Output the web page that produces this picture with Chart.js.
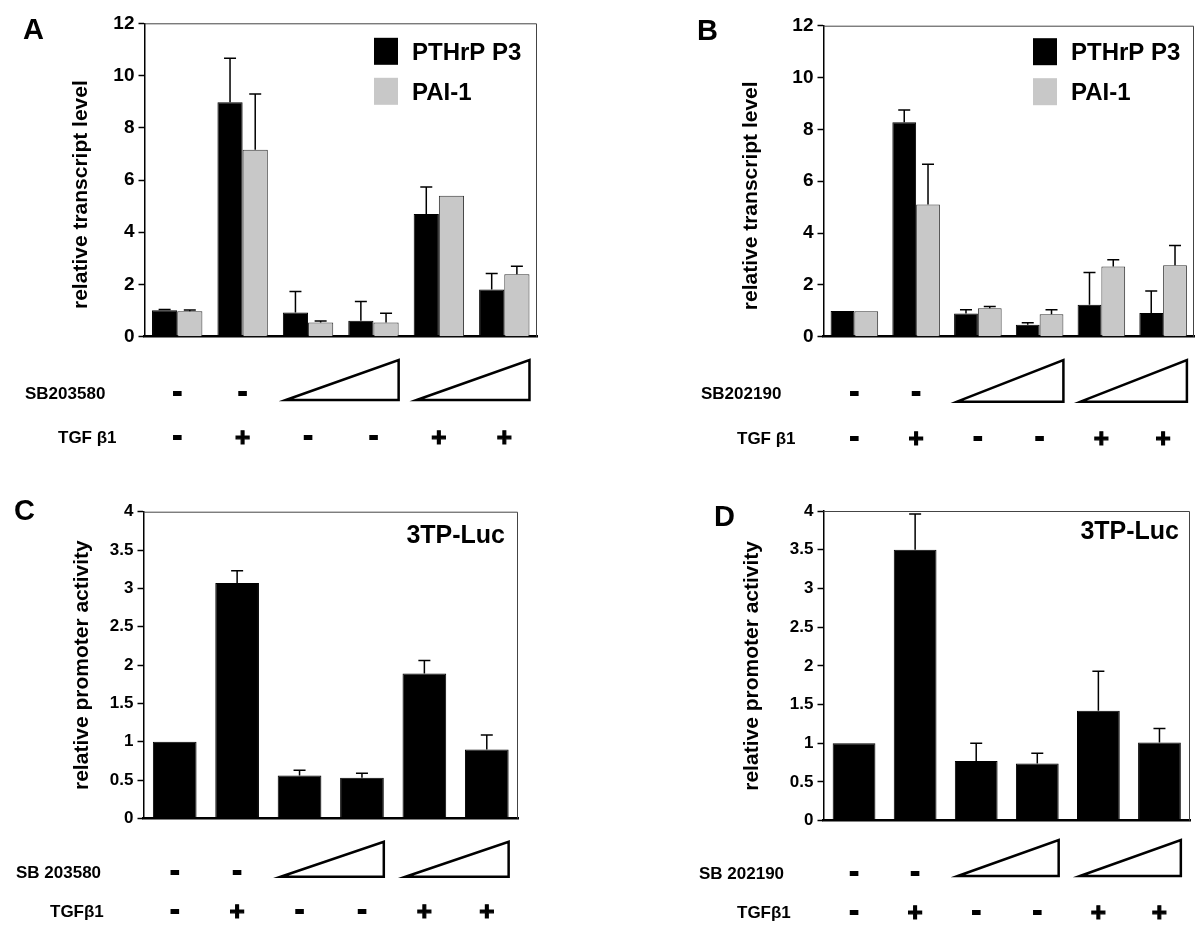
<!DOCTYPE html>
<html>
<head>
<meta charset="utf-8">
<title>p38 inhibitors and TGF-beta1</title>
<script src="https://cdn.jsdelivr.net/npm/chart.js@4.4.1/dist/chart.umd.min.js"></script>
<style>
  html, body { margin: 0; padding: 0; background: #fff; }
  body { position: relative; width: 1199px; height: 937px; overflow: hidden; }
  canvas { position: absolute; }
</style>
</head>
<body>
<canvas id="panelA" width="600" height="468" style="left:0;top:0"></canvas>
<canvas id="panelB" width="599" height="468" style="left:600px;top:0"></canvas>
<canvas id="panelC" width="600" height="469" style="left:0;top:468px"></canvas>
<canvas id="panelD" width="599" height="469" style="left:600px;top:468px"></canvas>
<script>
const FONT = "'Liberation Sans', Arial, Helvetica, sans-serif";

// six treatment conditions, same order in every panel
const conditions = ["1", "2", "3", "4", "5", "6"];
const inhibitorMarks = ["-", "-", "", "", "", ""];
const tgfMarks = ["-", "+", "-", "-", "+", "+"];
const inhibitorRamps = [[2, 3], [4, 5]];

// A: SB203580, transcript levels
const pthrpA = [1.01, 8.98, 0.93, 0.61, 4.70, 1.81];
const pthrpAErr = [0.03, 1.68, 0.80, 0.74, 1.03, 0.61];
const pai1A = [0.97, 7.16, 0.54, 0.54, 5.40, 2.39];
const pai1AErr = [0.05, 2.13, 0.06, 0.36, 0, 0.31];

// B: SB202190, transcript levels
const pthrpB = [0.99, 8.27, 0.90, 0.46, 1.23, 0.91];
const pthrpBErr = [0, 0.48, 0.14, 0.08, 1.25, 0.85];
const pai1B = [0.98, 5.10, 1.10, 0.87, 2.71, 2.76];
const pai1BErr = [0, 1.55, 0.07, 0.17, 0.26, 0.76];

// C: SB 203580, 3TP-Luc promoter activity
const lucC = [1.00, 3.07, 0.56, 0.53, 1.89, 0.90];
const lucCErr = [0, 0.16, 0.07, 0.06, 0.17, 0.19];

// D: SB 202190, 3TP-Luc promoter activity
const lucD = [1.00, 3.50, 0.77, 0.74, 1.42, 1.01];
const lucDErr = [0, 0.46, 0.23, 0.13, 0.51, 0.18];

const transcriptTicks = { min: 0, max: 12, step: 2 };
const promoterTicks = { min: 0, max: 4, step: 0.5 };

function capText(ctx, text, x, cy, size, align) {
  ctx.font = "bold " + size + "px " + FONT;
  ctx.textAlign = align || "left";
  ctx.textBaseline = "alphabetic";
  ctx.fillText(text, x, cy + 0.358 * size);
}

function mark(ctx, s, cx, cy) {
  const size = 26;
  ctx.font = "bold " + size + "px " + FONT;
  ctx.textAlign = "center";
  ctx.textBaseline = "alphabetic";
  const by = cy + (s === "+" ? 0.355 : 0.28) * size;
  ctx.lineWidth = s === "+" ? 1.2 : 2;
  ctx.fillText(s, cx, by);
  ctx.strokeText(s, cx, by);
}

// upper whiskers only, like the original figure
const errorBars = {
  id: "errorBars",
  afterDatasetsDraw(chart) {
    const ctx = chart.ctx, y = chart.scales.y;
    ctx.save();
    ctx.strokeStyle = "#000";
    ctx.lineWidth = 1.5;
    chart.data.datasets.forEach((ds, i) => {
      chart.getDatasetMeta(i).data.forEach((bar, j) => {
        const e = ds.errors[j];
        if (!e) return;
        const top = y.getPixelForValue(ds.data[j] + e);
        ctx.beginPath();
        ctx.moveTo(bar.x, bar.y);
        ctx.lineTo(bar.x, top);
        ctx.moveTo(bar.x - 6, top);
        ctx.lineTo(bar.x + 6, top);
        ctx.stroke();
      });
    });
    ctx.restore();
  }
};

// thin top and right edges of the plot box
const frame = {
  id: "frame",
  beforeDatasetsDraw(chart) {
    const ctx = chart.ctx, a = chart.chartArea;
    ctx.save();
    ctx.strokeStyle = "#444";
    ctx.lineWidth = 1;
    ctx.beginPath();
    ctx.moveTo(a.left, a.top + 0.5);
    ctx.lineTo(a.right - 0.5, a.top + 0.5);
    ctx.lineTo(a.right - 0.5, a.bottom);
    ctx.stroke();
    ctx.restore();
  }
};

const insideLegend = {
  id: "insideLegend",
  afterDraw(chart, args, o) {
    const ctx = chart.ctx, a = chart.chartArea;
    ctx.save();
    chart.data.datasets.forEach((ds, i) => {
      const cy = a.top + o.top + i * 40;
      if (o.swatch) {
        ctx.fillStyle = ds.backgroundColor;
        ctx.fillRect(a.right - o.right, cy - 13.5, 24, 27);
        ctx.fillStyle = "#000";
        capText(ctx, ds.label, a.right - o.right + 38, cy, 24, "left");
      } else {
        ctx.fillStyle = "#000";
        capText(ctx, ds.label, a.right - o.right, cy, 25, "right");
      }
    });
    capText(ctx, o.letter, o.letterX, o.letterY, 29, "left");
    ctx.restore();
  }
};

// treatment rows under the x axis
const treatments = {
  id: "treatments",
  afterDraw(chart, args, o) {
    const ctx = chart.ctx, x = chart.scales.x;
    const first = chart.getDatasetMeta(0).data;
    const last = chart.getDatasetMeta(chart.data.datasets.length - 1).data;
    ctx.save();
    ctx.fillStyle = "#000";
    ctx.strokeStyle = "#000";
    capText(ctx, o.inhibitor, o.inhibitorX, o.row1, 17, "left");
    capText(ctx, o.tgf, o.tgfX, o.row2, 17, "left");
    conditions.forEach((c, i) => {
      const cx = x.getPixelForValue(i);
      if (inhibitorMarks[i]) mark(ctx, inhibitorMarks[i], cx, o.row1);
      mark(ctx, tgfMarks[i], cx, o.row2);
    });
    ctx.lineWidth = 2.5;
    ctx.lineJoin = "miter";
    inhibitorRamps.forEach(([p, q]) => {
      const l = first[p].x - first[p].width / 2 + 3;
      const r = last[q].x + last[q].width / 2;
      ctx.beginPath();
      ctx.moveTo(l, o.rampBottom);
      ctx.lineTo(r, o.rampTop);
      ctx.lineTo(r, o.rampBottom);
      ctx.closePath();
      ctx.stroke();
    });
    ctx.restore();
  }
};

function makePanel(id, p) {
  const canvas = document.getElementById(id);
  const W = canvas.width, H = canvas.height;
  const padLeft = p.titleX - 12.6;
  return new Chart(canvas, {
    type: "bar",
    data: { labels: conditions, datasets: p.datasets },
    options: {
      responsive: false,
      animation: false,
      devicePixelRatio: 1,
      categoryPercentage: p.catPct,
      barPercentage: 1.0,
      layout: {
        padding: { left: padLeft, right: W - p.area.right, top: p.area.top, bottom: H - p.area.bottom }
      },
      scales: {
        x: {
          ticks: { display: false },
          grid: { display: false, drawTicks: false },
          border: { display: true, color: "#000", width: 2.5 },
          afterFit: s => { s.height = 0; }
        },
        y: {
          min: p.ticks.min,
          max: p.ticks.max,
          ticks: {
            stepSize: p.ticks.step,
            color: "#000",
            padding: 4,
            font: { family: FONT, size: p.tickSize, weight: "bold" },
            callback: v => String(v)
          },
          grid: { drawOnChartArea: false, drawTicks: true, tickLength: 6, tickColor: "#000", tickWidth: 1.5 },
          border: { display: true, color: "#000", width: 1.5 },
          title: {
            display: true,
            text: p.yTitle,
            color: "#000",
            padding: 0,
            font: { family: FONT, size: 21, weight: "bold", lineHeight: 1.2 }
          },
          afterFit: s => { s.width = p.area.left - padLeft; }
        }
      },
      plugins: {
        legend: { display: false },
        tooltip: { enabled: false },
        insideLegend: p.legend,
        treatments: p.rows
      }
    },
    plugins: [frame, errorBars, insideLegend, treatments]
  });
}

function transcriptSets(a, aErr, b, bErr) {
  return [
    { label: "PTHrP P3", data: a, errors: aErr, backgroundColor: "#000", borderColor: "#000", borderWidth: 1 },
    { label: "PAI-1", data: b, errors: bErr, backgroundColor: "#c8c8c8", borderColor: "#333", borderWidth: 1 }
  ];
}

function lucSet(v, err) {
  return [{ label: "3TP-Luc", data: v, errors: err, backgroundColor: "#000", borderColor: "#000", borderWidth: 1 }];
}

// trailing no-break spaces push the rotated title a little below the axis centre, as in the figure
const transcriptTitle = "relative transcript level\u00a0\u00a0\u00a0\u00a0\u00a0";

makePanel("panelA", {
  datasets: transcriptSets(pthrpA, pthrpAErr, pai1A, pai1AErr),
  area: { left: 144.5, right: 537, top: 23.3, bottom: 336.7 },
  titleX: 81, catPct: 0.77, ticks: transcriptTicks, tickSize: 19,
  yTitle: transcriptTitle,
  legend: { swatch: true, right: 163, top: 28, letter: "A", letterX: 23, letterY: 29 },
  rows: { inhibitor: "SB203580", inhibitorX: 25, tgf: "TGF \u03b21", tgfX: 58, row1: 393, row2: 437, rampTop: 360, rampBottom: 400 }
});

makePanel("panelB", {
  datasets: transcriptSets(pthrpB, pthrpBErr, pai1B, pai1BErr),
  area: { left: 223.5, right: 594, top: 25.7, bottom: 336.7 },
  titleX: 151.5, catPct: 0.77, ticks: transcriptTicks, tickSize: 19,
  yTitle: transcriptTitle,
  legend: { swatch: true, right: 161, top: 26, letter: "B", letterX: 97, letterY: 30 },
  rows: { inhibitor: "SB202190", inhibitorX: 101, tgf: "TGF \u03b21", tgfX: 137, row1: 393, row2: 437.7, rampTop: 360, rampBottom: 401.7 }
});

makePanel("panelC", {
  datasets: lucSet(lucC, lucCErr),
  area: { left: 143.5, right: 518, top: 43.7, bottom: 350.5 },
  titleX: 82, catPct: 0.70, ticks: promoterTicks, tickSize: 17,
  yTitle: "relative promoter activity",
  legend: { swatch: false, right: 13, top: 22, letter: "C", letterX: 14, letterY: 42 },
  rows: { inhibitor: "SB 203580", inhibitorX: 16, tgf: "TGF\u03b21", tgfX: 50, row1: 404, row2: 443, rampTop: 373.7, rampBottom: 408.7 }
});

makePanel("panelD", {
  datasets: lucSet(lucD, lucDErr),
  area: { left: 223.5, right: 590, top: 43, bottom: 352.7 },
  titleX: 152, catPct: 0.70, ticks: promoterTicks, tickSize: 17,
  yTitle: "relative promoter activity",
  legend: { swatch: false, right: 11, top: 19, letter: "D", letterX: 114, letterY: 48 },
  rows: { inhibitor: "SB 202190", inhibitorX: 99, tgf: "TGF\u03b21", tgfX: 137, row1: 405, row2: 444, rampTop: 372, rampBottom: 408 }
});
</script>
</body>
</html>
